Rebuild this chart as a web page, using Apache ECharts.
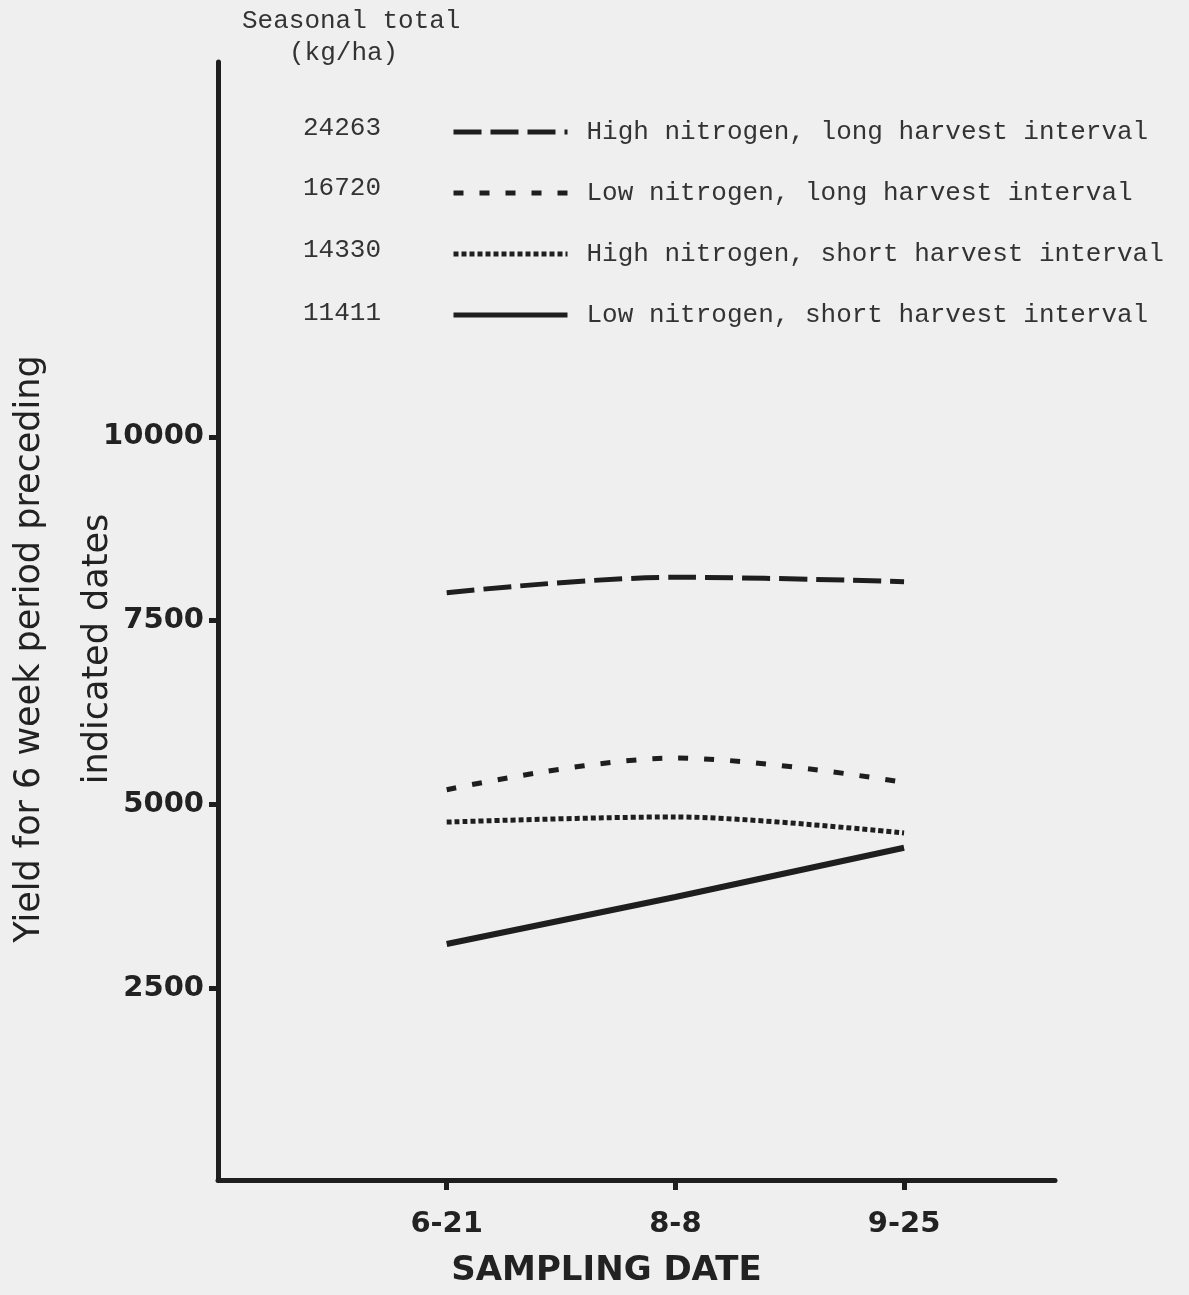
<!DOCTYPE html>
<html>
<head>
<meta charset="utf-8">
<script src="https://cdn.jsdelivr.net/npm/echarts@6/dist/echarts.min.js"></script>
<style>
html,body{margin:0;padding:0;background:#efefef;}
#chart{width:1189px;height:1295px;}
</style>
</head>
<body>
<div id="chart"></div>
<script>
// ---- data ----
const dates = ['6-21', '8-8', '9-25'];
const seriesNames = [
  'High nitrogen, long harvest interval',
  'Low nitrogen, long harvest interval',
  'High nitrogen, short harvest interval',
  'Low nitrogen, short harvest interval'
];
const highNLong  = [7880, 8090, 8030];
const lowNLong   = [5200, 5630, 5300];
const highNShort = [4760, 4830, 4610];
const lowNShort  = [3100, 3740, 4410];
const seasonalTotals = ['24263', '16720', '14330', '11411'];
const yTicks = [2500, 5000, 7500, 10000];

const INK = '#1e1e1e';
const mono = "'Liberation Mono', 'DejaVu Sans Mono', monospace";
const sans = "'DejaVu Sans', sans-serif";

function pts(vals) { return vals.map((v, i) => [i + 1, v]); }

const styles = [
  { type: [28, 9], width: 5, smooth: 0.35 },
  { type: [10, 16], width: 5, smooth: 0.35 },
  { type: [5, 3], width: 5, smooth: 0.3 },
  { type: 'solid', width: 6, smooth: false }
];
const allVals = [highNLong, lowNLong, highNShort, lowNShort];

const series = allVals.map((vals, k) => ({
  name: seriesNames[k],
  type: 'line',
  data: pts(vals),
  symbol: 'none',
  smooth: styles[k].smooth,
  lineStyle: { color: INK, width: styles[k].width, type: styles[k].type, cap: 'butt' },
  itemStyle: { color: INK },
  z: 3
}));

const totalsGraphics = seasonalTotals.map((t, i) => ({
  type: 'text',
  left: 303,
  top: [115, 175, 237, 300][i],
  style: { text: t, font: '26px ' + mono, fill: '#333' }
}));

const chart = echarts.init(document.getElementById('chart'), null, { renderer: 'canvas' });
chart.setOption({
  backgroundColor: '#efefef',
  animation: false,
  grid: { left: 218, top: 62, right: 134, bottom: 115, containLabel: false, outerBoundsMode: 'none' },
  legend: {
    orient: 'vertical',
    left: 446,
    top: 114,
    itemWidth: 114,
    itemHeight: 22,
    itemGap: 35,
    itemStyle: { opacity: 0 },
    lineStyle: { width: 5 },
    textStyle: { fontFamily: mono, fontSize: 26, color: '#333', padding: [0, 0, 0, 14] },
    data: seriesNames
  },
  xAxis: {
    type: 'value',
    min: 0,
    max: 3.66,
    name: 'SAMPLING DATE',
    nameLocation: 'middle',
    nameGap: 74,
    nameMoveOverlap: false,
    nameTextStyle: { fontFamily: sans, fontWeight: 'bold', fontSize: 34, color: '#222', padding: [0, 60, 0, 0] },
    axisLine: { onZero: false, lineStyle: { color: INK, width: 5 } },
    splitLine: { show: false },
    axisTick: { show: true, customValues: [1, 2, 3], length: 10, lineStyle: { color: INK, width: 5 } },
    axisLabel: {
      customValues: [1, 2, 3],
      formatter: v => dates[Math.round(v) - 1] || '',
      fontFamily: sans, fontWeight: 'bold', fontSize: 29, color: '#222', margin: 30
    }
  },
  yAxis: {
    type: 'value',
    min: -110,
    max: 15100,
    name: 'Yield for 6 week period preceding\nindicated dates',
    nameLocation: 'middle',
    nameGap: 86,
    nameMoveOverlap: false,
    nameRotate: 90,
    nameTextStyle: { fontFamily: sans, fontSize: 35, color: '#222', lineHeight: 68, padding: [0, 56, 0, 0] },
    axisLine: { onZero: false, lineStyle: { color: INK, width: 5 } },
    splitLine: { show: false },
    axisTick: { show: true, customValues: yTicks, length: 9, lineStyle: { color: INK, width: 5 } },
    axisLabel: {
      customValues: yTicks,
      formatter: v => String(v),
      fontFamily: sans, fontWeight: 'bold', fontSize: 29, color: '#222', margin: 14
    }
  },
  graphic: [
    { type: 'text', left: 242, top: 8, style: { text: 'Seasonal total', font: '26px ' + mono, fill: '#333' } },
    { type: 'text', left: 289, top: 40, style: { text: '(kg/ha)', font: '26px ' + mono, fill: '#333' } }
  ].concat(totalsGraphics),
  series: series
});
</script>
</body>
</html>
